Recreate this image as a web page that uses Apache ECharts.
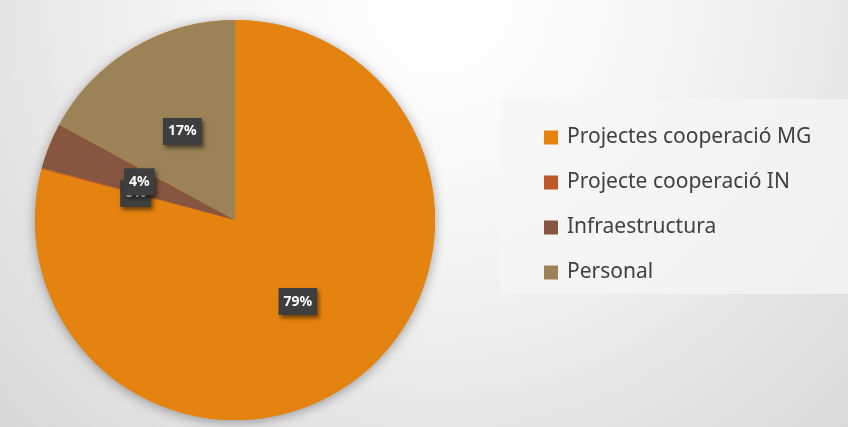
<!DOCTYPE html>
<html>
<head>
<meta charset="utf-8">
<script src="https://cdn.jsdelivr.net/npm/echarts@6/dist/echarts.min.js"></script>
<style>
html,body{margin:0;padding:0;}
#chart{width:848px;height:427px;}
</style>
</head>
<body>
<div id="chart"></div>
<script>
var categories = ['Projectes cooperació MG', 'Projecte cooperació IN', 'Infraestructura', 'Personal'];
var values = [79.1, 0.1, 3.7, 17.1];
var colors = ['#E4830F', '#BD582C', '#865640', '#9B8357'];

var chart = echarts.init(document.getElementById('chart'));
var option = {
  backgroundColor: {
    type: 'radial', x: 440, y: 0, r: 640, global: true,
    colorStops: [
      { offset: 0, color: '#ffffff' },
      { offset: 0.35, color: '#f6f6f6' },
      { offset: 1, color: '#d6d6d6' }
    ]
  },
  color: colors,
  graphic: [{
    type: 'rect', z: 0,
    shape: { x: 500, y: 99, width: 348, height: 195 },
    style: { fill: 'rgba(245,245,245,0.75)' }
  }],
  legend: {
    orient: 'vertical',
    left: 539, top: 122,
    icon: 'rect',
    itemWidth: 14, itemHeight: 14,
    itemGap: 24,
    data: categories,
    textStyle: { fontFamily: 'Noto Sans', fontSize: 21, lineHeight: 20, color: '#404040', padding: [0, 0, 0, 4] }
  },
  series: [{
    type: 'pie', silent: true,
    center: [235, 220], radius: 200,
    data: [{ value: 1, name: '' }],
    itemStyle: { color: '#E4830F', shadowBlur: 12, shadowColor: 'rgba(0,0,0,0.35)', shadowOffsetY: 2 },
    label: { show: false }, labelLine: { show: false },
    z: 1
  }, {
    type: 'pie',
    center: [235, 220], radius: 200,
    startAngle: 90, clockwise: true,
    percentPrecision: 0,
    avoidLabelOverlap: false,
    minShowLabelAngle: 0,
    labelLayout: { hideOverlap: false },
    data: categories.map(function (c, i) { return { name: c, value: values[i] }; }),
    itemStyle: { borderWidth: 0 },
    label: {
      show: true, position: 'inside',
      formatter: '{d}%',
      fontFamily: 'Noto Sans', fontWeight: 'bold', fontSize: 14,
      color: '#ffffff',
      backgroundColor: '#3e3e3e',
      padding: [7, 5, 6, 5],
      shadowColor: 'rgba(0,0,0,0.5)', shadowBlur: 4, shadowOffsetX: 2, shadowOffsetY: 3
    },
    labelLine: { show: false },
    z: 2
  }]
};
chart.setOption(option);
</script>
</body>
</html>
